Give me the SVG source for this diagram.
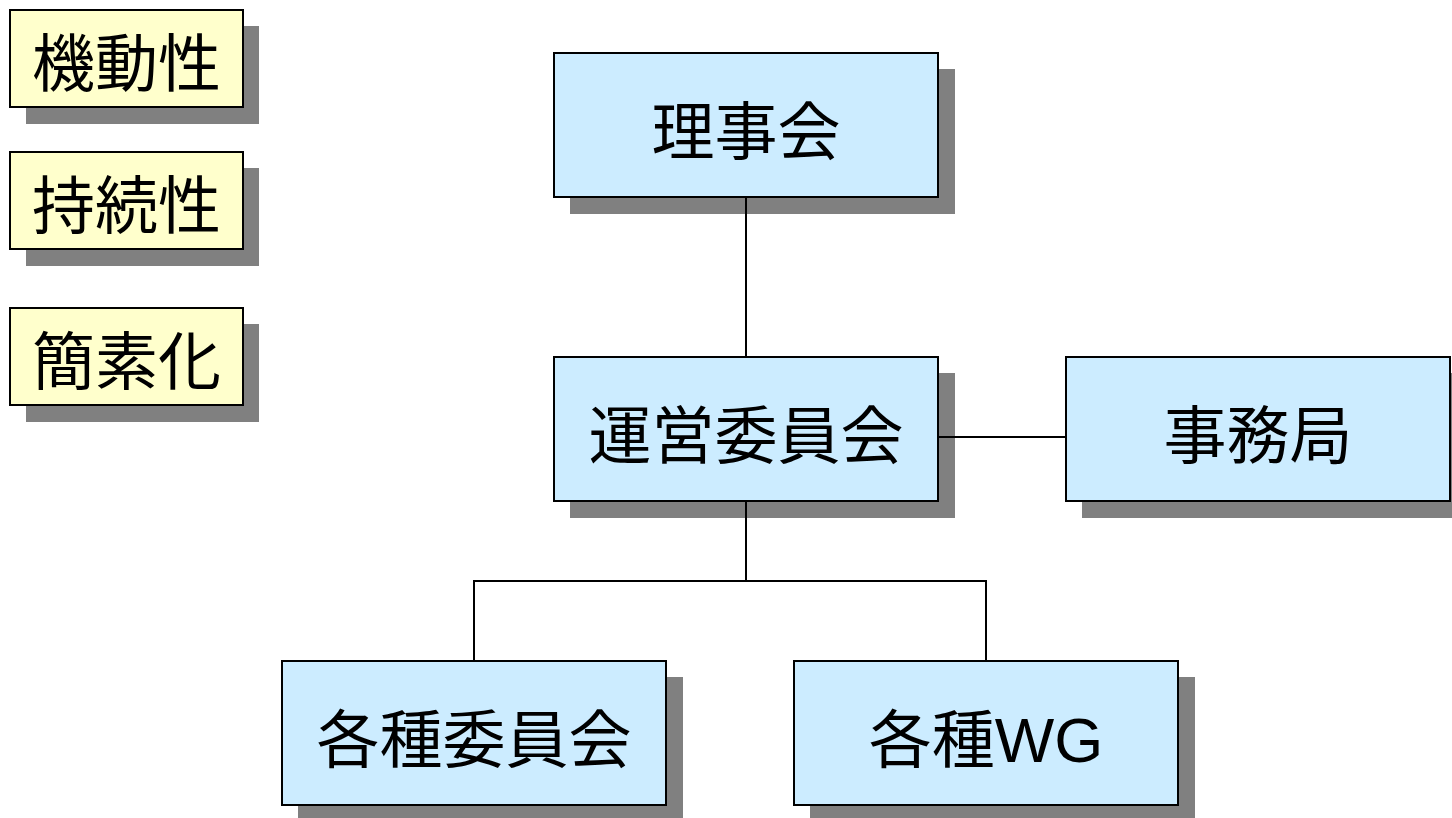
<svg xmlns="http://www.w3.org/2000/svg" width="1452" height="818" viewBox="0 0 1452 818">
<style>
.sh{fill:#808080}
.b{fill:#CCECFF;stroke:#000;stroke-width:2}
.y{fill:#FFFFCC;stroke:#000;stroke-width:2}
.t{font-family:"Liberation Sans","Noto Sans CJK JP",sans-serif;font-size:63px;fill:#000;text-anchor:middle}
.c{fill:none;stroke:#000;stroke-width:2}
</style>
<rect width="1452" height="818" fill="#fff"/>
<g id="kidousei"><rect class="sh" x="26" y="26" width="233" height="98"/><rect class="y" x="10" y="10" width="233" height="97"/><text class="t" x="126.5" y="86">機動性</text></g>
<g id="jizokusei"><rect class="sh" x="26" y="168" width="233" height="98"/><rect class="y" x="10" y="152" width="233" height="97"/><text class="t" x="126.5" y="228">持続性</text></g>
<g id="kansoka"><rect class="sh" x="26" y="324" width="233" height="98"/><rect class="y" x="10" y="308" width="233" height="97"/><text class="t" x="126.5" y="384">簡素化</text></g>
<g id="rijikai"><rect class="sh" x="570" y="69" width="385" height="145"/><rect class="b" x="554" y="53" width="384" height="144"/><text class="t" x="746" y="154">理事会</text></g>
<g id="unei"><rect class="sh" x="570" y="373" width="385" height="145"/><rect class="b" x="554" y="357" width="384" height="144"/><text class="t" x="746" y="458">運営委員会</text></g>
<g id="jimukyoku"><rect class="sh" x="1082" y="373" width="385" height="145"/><rect class="b" x="1066" y="357" width="384" height="144"/><text class="t" x="1258" y="458">事務局</text></g>
<g id="kakushu-iinkai"><rect class="sh" x="298" y="677" width="385" height="145"/><rect class="b" x="282" y="661" width="384" height="144"/><text class="t" x="474" y="762">各種委員会</text></g>
<g id="kakushu-wg"><rect class="sh" x="810" y="677" width="385" height="145"/><rect class="b" x="794" y="661" width="384" height="144"/><text class="t" x="986" y="762">各種WG</text></g>
<g id="connectors">
<path class="c" d="M746 198V356"/>
<path class="c" d="M939 437H1065"/>
<path class="c" d="M746 502V581M474 660V581H986V660"/>
</g>
</svg>
